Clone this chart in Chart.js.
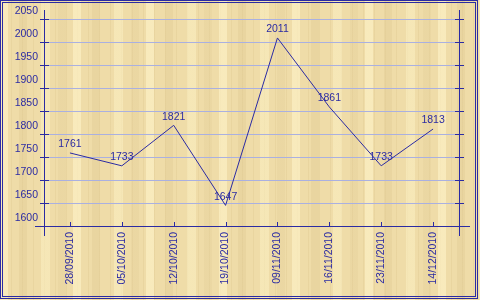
<!DOCTYPE html>
<html>
<head>
<meta charset="utf-8">
<script src="https://cdn.jsdelivr.net/npm/chart.js@4.4.1/dist/chart.umd.min.js"></script>
<style>
html,body{margin:0;padding:0;}
body{width:480px;height:300px;overflow:hidden;}
#wrap{
  width:480px;height:300px;position:relative;
  background-color:#efdca8;
  background-image:
    repeating-linear-gradient(90deg, rgba(252,240,196,0.7) 0 8px, rgba(0,0,0,0) 8px 19px, rgba(222,200,145,0.35) 19px 27px, rgba(0,0,0,0) 27px 41px, rgba(250,238,192,0.6) 41px 50px, rgba(0,0,0,0) 50px 58px, rgba(225,204,150,0.3) 58px 66px, rgba(0,0,0,0) 66px 73px),
    repeating-linear-gradient(90deg, rgba(205,180,120,0.18) 0 1px, rgba(0,0,0,0) 1px 11px);
}
canvas{display:block;}
</style>
</head>
<body>
<div id="wrap"><canvas id="c" width="480" height="300"></canvas></div>
<script>
const categories = ['28/09/2010','05/10/2010','12/10/2010','19/10/2010','09/11/2010','16/11/2010','23/11/2010','14/12/2010'];
const values = [1761, 1733, 1821, 1647, 2011, 1861, 1733, 1813];
const yMin = 1600, yMax = 2050, yStep = 50;

const BLUE = '#2b2ba3';
const GRID = '#aab0e0';
const FONT = {family: '"Liberation Sans", Arial, sans-serif', size: 10.5};

const grid = {
  id: 'gridlines',
  beforeDatasetsDraw(chart) {
    const ctx = chart.ctx, a = chart.chartArea, ys = chart.scales.y;
    ctx.save();
    ctx.strokeStyle = GRID;
    ctx.lineWidth = 1;
    ctx.beginPath();
    ys.ticks.forEach((t, i) => {
      const y = Math.round(ys.getPixelForTick(i)) - 0.5;
      ctx.moveTo(a.left + 5, y); ctx.lineTo(a.right - 4, y);
    });
    ctx.stroke();
    ctx.restore();
  }
};

const decor = {
  id: 'decor',
  afterDraw(chart) {
    const ctx = chart.ctx;
    const a = chart.chartArea;
    const xs = chart.scales.x, ys = chart.scales.y;
    ctx.save();
    ctx.strokeStyle = BLUE;
    ctx.lineWidth = 1;
    const L = Math.round(a.left) + 0.5, R = Math.round(a.right) + 0.5, B = Math.round(a.bottom) - 0.5;
    ctx.beginPath();
    ctx.moveTo(L, a.top - 10); ctx.lineTo(L, a.bottom + 9);
    ctx.moveTo(R, a.top - 10); ctx.lineTo(R, a.bottom + 9);
    ctx.moveTo(a.left - 9, B); ctx.lineTo(a.right + 11, B);
    ctx.stroke();
    ctx.beginPath();
    ys.ticks.forEach((t, i) => {
      const y = Math.round(ys.getPixelForTick(i)) - 0.5;
      ctx.moveTo(a.left - 4, y); ctx.lineTo(a.left + 5, y);
      ctx.moveTo(a.right - 4, y); ctx.lineTo(a.right + 5, y);
    });
    categories.forEach((c, i) => {
      const x = Math.round(xs.getPixelForValue(i)) + 0.5;
      ctx.moveTo(x, a.bottom - 5); ctx.lineTo(x, a.bottom);
    });
    ctx.stroke();
    ctx.fillStyle = BLUE;
    ctx.font = FONT.size + 'px ' + FONT.family;
    ctx.textAlign = 'center';
    ctx.textBaseline = 'middle';
    const meta = chart.getDatasetMeta(0);
    meta.data.forEach((p, i) => {
      ctx.fillText(String(values[i]), p.x, p.y - 8.5);
    });
    ctx.strokeRect(0.5, 0.5, 477, 298);
    ctx.strokeRect(2.5, 2.5, 473, 294);
    ctx.restore();
  }
};

new Chart(document.getElementById('c'), {
  type: 'line',
  data: {
    labels: categories,
    datasets: [{
      data: values,
      borderColor: BLUE,
      borderWidth: 1,
      pointRadius: 0,
      tension: 0,
      fill: false
    }]
  },
  options: {
    responsive: false,
    animation: false,
    devicePixelRatio: 1,
    layout: {padding: {left: 0, right: 21, top: 20, bottom: 0}},
    plugins: {legend: {display: false}, tooltip: {enabled: false}},
    scales: {
      x: {
        offset: true,
        grid: {display: false, drawTicks: false},
        border: {display: false},
        ticks: {color: BLUE, font: FONT, minRotation: 90, maxRotation: 90, padding: 5, autoSkip: false},
        afterFit(s) { s.height = 73; }
      },
      y: {
        min: yMin, max: yMax,
        grid: {display: false, drawTicks: false},
        border: {display: false},
        ticks: {stepSize: yStep, color: BLUE, font: FONT, padding: 6, labelOffset: -9, callback: v => String(v)},
        afterFit(s) { s.width = 44; }
      }
    }
  },
  plugins: [grid, decor]
});
</script>
</body>
</html>
